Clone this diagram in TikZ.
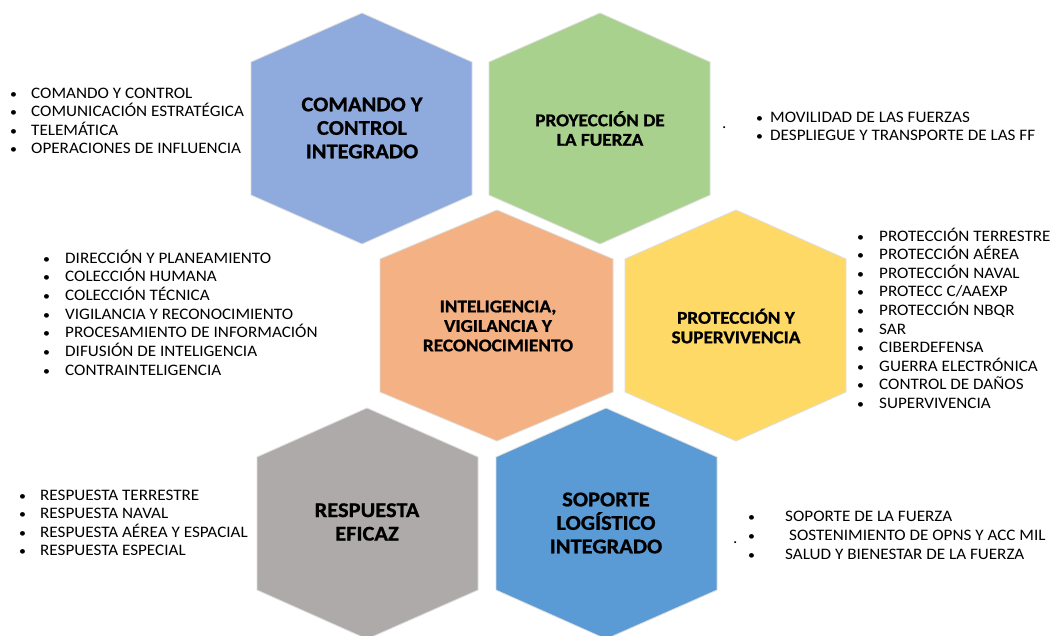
\documentclass[tikz,border=0pt]{standalone}
\usepackage{fontspec}
\setmainfont{Carlito}[FakeStretch=1.07, BoldFeatures={FakeBold=0.9}]
\definecolor{hblue}{HTML}{8FAADC}
\definecolor{hgreen}{HTML}{A9D18E}
\definecolor{horange}{HTML}{F4B183}
\definecolor{hyellow}{HTML}{FFD966}
\definecolor{hgray}{HTML}{AEAAAA}
\definecolor{hblued}{HTML}{5B9BD5}
% #1 colour, #2 centre x, #3 left x, #4 right x, #5 top y
\newcommand\hexshape[5]{%
  \filldraw[hexa, fill=#1] (#2,#5) -- (#4,#5+49) -- (#4,#5+182) -- (#2,#5+231)
    -- (#3,#5+182) -- (#3,#5+49) -- cycle;}
\begin{document}
\begin{tikzpicture}[x=1pt,y=-1pt,
  hexa/.style={draw=black!13, line width=0.8pt},
  ttl/.style={font=\bfseries\fontsize{21}{23.5}\selectfont, align=center, inner sep=0},
  ttls/.style={font=\bfseries\fontsize{18}{19.5}\selectfont, align=center, inner sep=0},
  item/.style={font=\fontsize{16}{18}\selectfont, anchor=base west, inner sep=0},
  bul/.style={font=\fontsize{13}{18}\selectfont, anchor=base west, inner sep=0},
]
\useasboundingbox[fill=white] (0,0) rectangle (1052,635);
\hexshape{hblue}{362}{251}{472}{13}
\hexshape{hgreen}{600}{489}{710}{13}
\hexshape{horange}{497}{380}{613}{210}
\hexshape{hyellow}{736}{625}{846}{210}
\hexshape{hgray}{367}{257}{478}{408}
\hexshape{hblued}{606}{496}{717}{408}

\node[ttl] (t1) at (362,128) {COMANDO Y\\CONTROL\\INTEGRADO};
\node[ttls] (t2) at (600,128.5) {PROYECCIÓN DE\\LA FUERZA};
\node[ttls] (t3) at (498,326) {INTELIGENCIA,\\VIGILANCIA Y\\RECONOCIMIENTO};
\node[ttls] (t4) at (736,326) {PROTECCIÓN Y\\SUPERVIVENCIA};
\node[ttl] (t5) at (367,522) {RESPUESTA\\EFICAZ};
\node[ttl] (t6) at (606,523) {SOPORTE\\LOGÍSTICO\\INTEGRADO};

\foreach \t [count=\i] in {COMANDO Y CONTROL, COMUNICACIÓN ESTRATÉGICA, TELEMÁTICA, OPERACIONES DE INFLUENCIA}{
  \node[bul] (ba\i) at (10,{98+(\i-1)*18.6}) {•};
  \node[item] (la\i) at (31,{98+(\i-1)*18.6}) {\t};}
\node[item] (da) at (722,128) {.};
\foreach \t [count=\i] in {MOVILIDAD DE LAS FUERZAS, DESPLIEGUE Y TRANSPORTE DE LAS FF}{
  \node[bul] (bb\i) at (756,{122+(\i-1)*18.8}) {•};
  \node[item] (lb\i) at (770,{122+(\i-1)*18.8}) {\t};}
\foreach \t [count=\i] in {DIRECCIÓN Y PLANEAMIENTO, COLECCIÓN HUMANA, COLECCIÓN TÉCNICA, VIGILANCIA Y RECONOCIMIENTO, PROCESAMIENTO DE INFORMACIÓN, DIFUSIÓN DE INTELIGENCIA, CONTRAINTELIGENCIA}{
  \node[bul] (bc\i) at (43,{263+(\i-1)*18.7}) {•};
  \node[item] (lc\i) at (65,{263+(\i-1)*18.7}) {\t};}
\foreach \t [count=\i] in {PROTECCIÓN TERRESTRE, PROTECCIÓN AÉREA, PROTECCIÓN NAVAL, PROTECC C/AAEXP, PROTECCIÓN NBQR, SAR, CIBERDEFENSA, GUERRA ELECTRÓNICA, CONTROL DE DAÑOS, SUPERVIVENCIA}{
  \node[bul] (bd\i) at (857,{241+(\i-1)*18.6}) {•};
  \node[item] (ld\i) at (879,{241+(\i-1)*18.6}) {\t};}
\foreach \t [count=\i] in {RESPUESTA TERRESTRE, RESPUESTA NAVAL, RESPUESTA AÉREA Y ESPACIAL, RESPUESTA ESPECIAL}{
  \node[bul] (be\i) at (19,{500+(\i-1)*18.6}) {•};
  \node[item] (le\i) at (40,{500+(\i-1)*18.6}) {\t};}
\node[item] (df) at (733,543) {.};
\node[bul] (bf1) at (748,521) {•};
\node[item] (lf1) at (785,521) {SOPORTE DE LA FUERZA};
\node[bul] (bf2) at (748,540) {•};
\node[item] (lf2) at (789,540) {SOSTENIMIENTO DE OPNS Y ACC MIL};
\node[bul] (bf3) at (748,559) {•};
\node[item] (lf3) at (785,559) {SALUD Y BIENESTAR DE LA FUERZA};
\end{tikzpicture}
\end{document}
